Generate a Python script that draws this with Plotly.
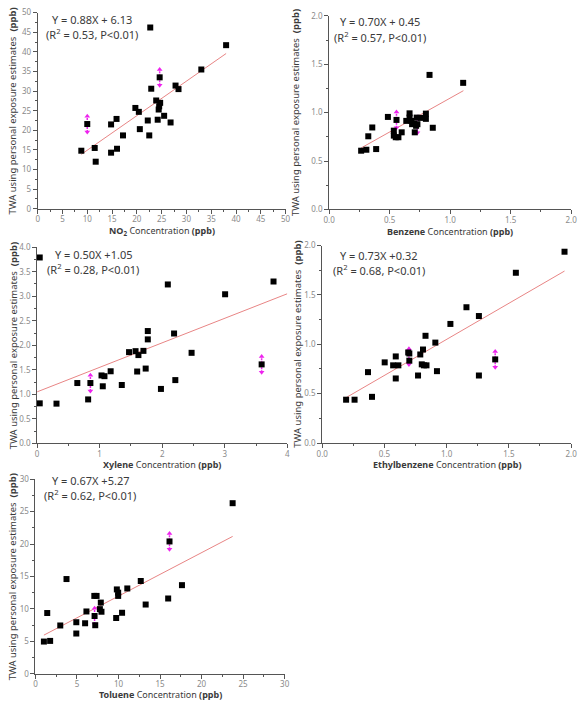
import plotly.graph_objects as go

# ---------------- data ----------------
no2_x = [8.8, 10.0, 11.5, 11.7, 14.8, 14.8, 15.9, 16.0, 17.2, 19.7, 20.4, 20.6, 22.2, 22.5, 22.7,
         22.9, 23.9, 24.2, 24.4, 24.5, 24.7, 24.6, 25.5, 26.8, 27.8, 28.4, 33.0, 38.0]
no2_y = [14.8, 21.6, 15.5, 12.0, 21.5, 14.3, 22.9, 15.3, 18.7, 25.7, 24.7, 20.3, 22.5, 18.7, 46.2,
         30.6, 27.6, 22.7, 25.3, 26.1, 27.0, 33.5, 23.7, 22.0, 31.4, 30.5, 35.5, 41.7]
no2_flag_x = [10.0, 24.6]
no2_flag_y = [21.6, 33.5]

benz_x = [0.265, 0.308, 0.324, 0.357, 0.389, 0.486, 0.535, 0.535, 0.551, 0.557, 0.573, 0.600,
          0.638, 0.665, 0.665, 0.680, 0.686, 0.703, 0.708, 0.719, 0.730, 0.724, 0.757, 0.800,
          0.800, 0.830, 0.857, 1.108]
benz_y = [0.607, 0.617, 0.756, 0.847, 0.624, 0.956, 0.814, 0.763, 0.746, 0.925, 0.746, 0.797,
          0.915, 0.993, 0.949, 0.915, 0.881, 0.888, 0.797, 0.864, 0.881, 0.949, 0.946, 0.990,
          0.936, 1.390, 0.844, 1.308]
benz_flag_x = [0.557, 0.730]
benz_flag_y = [0.925, 0.875]

xyl_x = [0.042, 0.042, 0.31, 0.643, 0.816, 0.852, 1.03, 1.05, 1.077, 1.176, 1.354, 1.47, 1.574,
         1.60, 1.62, 1.70, 1.736, 1.77, 1.77, 1.98, 2.09, 2.19, 2.21, 2.47, 3.006, 3.59, 3.78]
xyl_y = [3.79, 0.816, 0.81, 1.23, 0.896, 1.23, 1.385, 1.164, 1.37, 1.47, 1.19, 1.86, 1.88,
         1.465, 1.80, 1.886, 1.525, 2.12, 2.29, 1.11, 3.24, 2.24, 1.29, 1.846, 3.04, 1.61, 3.30]
xyl_flag_x = [0.852, 3.59]
xyl_flag_y = [1.23, 1.61]

eth_x = [0.192, 0.26, 0.368, 0.40, 0.502, 0.57, 0.591, 0.591, 0.612, 0.691, 0.70, 0.70, 0.77,
         0.788, 0.80, 0.81, 0.817, 0.83, 0.838, 0.909, 0.922, 1.03, 1.159, 1.259, 1.259, 1.39,
         1.556, 1.947]
eth_y = [0.439, 0.439, 0.718, 0.468, 0.817, 0.787, 0.877, 0.654, 0.787, 0.917, 0.907, 0.834,
         0.684, 0.897, 0.797, 0.947, 0.787, 1.086, 0.787, 1.017, 0.728, 1.206, 1.375, 1.286,
         0.684, 0.847, 1.724, 1.937]
eth_flag_x = [0.697, 1.39]
eth_flag_y = [0.875, 0.847]

tol_x = [1.02, 1.42, 1.77, 2.99, 3.74, 4.92, 4.92, 5.98, 6.14, 7.12, 7.2, 7.09, 7.36, 7.87,
         7.76, 7.95, 9.72, 9.8, 9.96, 9.96, 10.43, 11.06, 12.68, 13.27, 15.98, 16.14, 17.64, 23.74]
tol_y = [4.96, 9.36, 5.06, 7.44, 14.6, 7.94, 6.2, 7.78, 9.6, 8.9, 7.48, 12.0, 12.0, 10.97,
         9.96, 9.56, 8.59, 13.0, 12.5, 12.0, 9.4, 13.15, 14.3, 10.67, 11.6, 20.4, 13.66, 26.3]
tol_flag_x = [7.12, 16.14]
tol_flag_y = [8.9, 20.4]

slopes = [0.88, 0.70, 0.50, 0.73, 0.67]
intercepts = [6.13, 0.45, 1.05, 0.32, 5.27]
fit_start = [8.8, 0.265, 0.0, 0.192, 1.02]
fit_end = [38.0, 1.11, 4.0, 1.947, 23.74]
eq_line1 = ["Y = 0.88X + 6.13", "Y = 0.70X + 0.45", "Y = 0.50X +1.05", "Y = 0.73X +0.32", "Y = 0.67X +5.27"]
eq_line2 = ["(R<sup>2</sup> = 0.53, P<0.01)", "(R<sup>2</sup> = 0.57, P<0.01)", "(R<sup>2</sup> = 0.28, P<0.01)",
            "(R<sup>2</sup> = 0.68, P<0.01)", "(R<sup>2</sup> = 0.62, P<0.01)"]
species = ["NO<sub>2</sub>", "Benzene", "Xylene", "Ethylbenzene", "Toluene"]
x_ranges = [[0, 50], [0, 2], [0, 4], [0, 2], [0, 30]]
y_ranges = [[0, 50], [0, 2], [0, 4], [0, 2], [0, 30]]
x_dticks = [5, 0.5, 1, 0.5, 5]
y_dticks = [5, 0.5, 0.5, 0.5, 5]
x_fmt = ["d", ".1f", "d", ".1f", "d"]
y_fmt = ["d", ".1f", ".1f", ".1f", "d"]

xs = [no2_x, benz_x, xyl_x, eth_x, tol_x]
ys = [no2_y, benz_y, xyl_y, eth_y, tol_y]
fxs = [no2_flag_x, benz_flag_x, xyl_flag_x, eth_flag_x, tol_flag_x]
fys = [no2_flag_y, benz_flag_y, xyl_flag_y, eth_flag_y, tol_flag_y]

# ---------------- layout geometry (pixels) ----------------
W, H = 582, 705
boxes = [(32.3, 285.0, 6.7, 206.0),
         (329.3, 576.0, 10.0, 206.7),
         (31.7, 286.7, 245.0, 444.3),
         (322.3, 576.0, 243.3, 444.0),
         (30.0, 284.0, 480.7, 678.3)]
ytitle_x = [7, 295, 7, 297, 7]
xtitle_y = [228.5, 229.5, 466, 466, 699]
eq_y1 = [14, 16, 252, 253, 482]
eq_y2 = [28, 31, 267, 268, 497]
eq_cx = [88, 381, 89, 380, 86]
ARROW_PX = 8  # half-length of flag arrows in pixels

fig = go.Figure()
annotations = []
FONT = "Noto Sans"
axis_col = "#555555"
tick_lbl_col = "#8a8a8a"
text_col = "#3a3a3a"

for i in range(5):
    n = "" if i == 0 else str(i + 1)
    xa, ya = "x" + n, "y" + n
    l, r, t, b = boxes[i]
    fig.add_trace(go.Scatter(
        x=[fit_start[i], fit_end[i]],
        y=[slopes[i] * fit_start[i] + intercepts[i], slopes[i] * fit_end[i] + intercepts[i]],
        mode="lines", line=dict(color="#e88585", width=1), xaxis=xa, yaxis=ya,
        showlegend=False, hoverinfo="skip"))
    # magenta double arrows (length converted from pixels through the axis scale)
    units_per_px = (y_ranges[i][1] - y_ranges[i][0]) / (b - t)
    d = ARROW_PX * units_per_px
    for fx, fy in zip(fxs[i], fys[i]):
        fig.add_trace(go.Scatter(
            x=[fx, fx], y=[fy - d, fy + d], mode="lines+markers",
            line=dict(color="#ee22ee", width=1.5, dash="2px,1px"),
            marker=dict(symbol=["triangle-down", "triangle-up"], size=5, color="#ee22ee"),
            xaxis=xa, yaxis=ya, showlegend=False, hoverinfo="skip", cliponaxis=False))
    fig.add_trace(go.Scatter(
        x=xs[i], y=ys[i], mode="markers",
        marker=dict(symbol="square", size=6, color="black"),
        xaxis=xa, yaxis=ya, showlegend=False, cliponaxis=False))
    common = dict(showline=True, linecolor=axis_col, linewidth=1, ticks="outside",
                  ticklen=4, tickcolor=axis_col, tickwidth=1, showgrid=False, zeroline=False,
                  tickfont=dict(family=FONT, size=8, color=tick_lbl_col), fixedrange=True)
    fig.layout["xaxis" + n] = dict(
        domain=[l / W, r / W], range=x_ranges[i], dtick=x_dticks[i], tick0=0,
        tickformat=x_fmt[i], anchor=ya, ticklabelstandoff=-1,
        minor=dict(ticks="outside", ticklen=2, tickcolor=axis_col, dtick=x_dticks[i] / 2),
        **common)
    fig.layout["yaxis" + n] = dict(
        domain=[1 - b / H, 1 - t / H], range=y_ranges[i], dtick=y_dticks[i], tick0=0,
        tickformat=y_fmt[i], anchor=xa,
        minor=dict(ticks="outside", ticklen=2, tickcolor=axis_col, dtick=y_dticks[i] / 2),
        **common)
    annotations.append(dict(
        xref="paper", yref="paper", x=ytitle_x[i] / W, y=1 - (t + b) / 2 / H,
        text="TWA using personal exposure estimates  <b>(ppb)</b>", textangle=-90,
        showarrow=False, xanchor="center", yanchor="middle",
        font=dict(family=FONT, size=9.5, color=text_col)))
    annotations.append(dict(
        xref="paper", yref="paper", x=(l + r) / 2 / W, y=1 - xtitle_y[i] / H,
        text="<b>" + species[i] + "</b> Concentration <b>(ppb)</b>",
        showarrow=False, xanchor="center", yanchor="middle",
        font=dict(family=FONT, size=9, color=text_col)))
    annotations.append(dict(
        xref="paper", yref="paper", x=eq_cx[i] / W, y=1 - eq_y1[i] / H, text=eq_line1[i],
        showarrow=False, xanchor="center", yanchor="middle",
        font=dict(family=FONT, size=11, color=text_col)))
    annotations.append(dict(
        xref="paper", yref="paper", x=eq_cx[i] / W, y=1 - eq_y2[i] / H, text=eq_line2[i],
        showarrow=False, xanchor="center", yanchor="middle",
        font=dict(family=FONT, size=11, color=text_col)))

fig.update_layout(
    width=W, height=H, margin=dict(l=0, r=0, t=0, b=0),
    plot_bgcolor="white", paper_bgcolor="white",
    annotations=annotations, showlegend=False)

fig.write_html("out.html")
